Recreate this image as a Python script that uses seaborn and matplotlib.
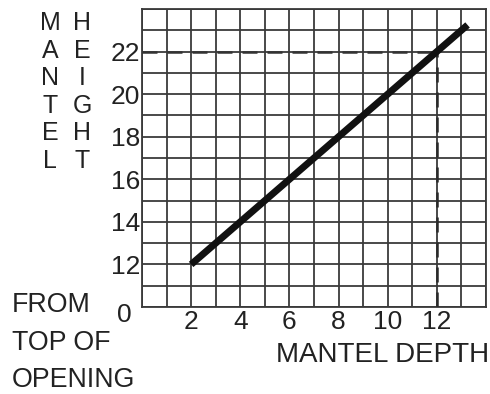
import matplotlib
matplotlib.use("Agg")
import matplotlib.pyplot as plt
import matplotlib.transforms as mtrans
import seaborn as sns
import pandas as pd

# data
depth = [2, 13.25]
height = [12, 23.25]
x_ticks = [2, 4, 6, 8, 10, 12]
y_ticks = [10, 12, 14, 16, 18, 20, 22]
y_tick_labels = ["0", "12", "14", "16", "18", "20", "22"]
ref_depth = 12
ref_height = 22
x_range = [0, 14]
y_range = [10, 24]

sns.set_theme(style="white")
plt.rcParams['font.family'] = ['Liberation Sans', 'DejaVu Sans']

W, H = 490, 394
fig = plt.figure(figsize=(W / 100, H / 100), dpi=100)
ax = fig.add_axes([142 / W, 1 - 307 / H, (486 - 142) / W, (307 - 9) / H])

grid_col = "#3a3a3a"
ax.set_xlim(*x_range)
ax.set_ylim(*y_range)
ax.set_xticks(x_ticks)
ax.set_xticks(range(x_range[0], x_range[1] + 1), minor=True)
ax.set_yticks(y_ticks)
ax.set_yticklabels(y_tick_labels)
ax.set_yticks(range(y_range[0], y_range[1] + 1), minor=True)
ax.grid(True, which="both", color=grid_col, linewidth=1.3)
ax.set_axisbelow(True)
ax.tick_params(which="both", length=0)
ax.tick_params(axis="x", pad=2, labelsize=19, colors="#222222")
ax.tick_params(axis="y", pad=1.5, labelsize=19, colors="#222222")
for s in ax.spines.values():
    s.set_color(grid_col)
    s.set_linewidth(1.3)

# shift the broken-axis "0" label left and down
zero_lbl = ax.get_yticklabels()[0]
zero_lbl.set_transform(zero_lbl.get_transform() +
                       mtrans.ScaledTranslation(-0.08, -0.06, fig.dpi_scale_trans))

# dashed reference lines
ax.plot([x_range[0], ref_depth], [ref_height, ref_height], color="#333333",
        linewidth=1.8, dashes=(6, 4), zorder=3)
ax.plot([ref_depth, ref_depth], [y_range[0], ref_height], color="#2a2a2a",
        linewidth=1.8, dashes=(6, 4), zorder=3)

df = pd.DataFrame({"depth": depth, "height": height})
sns.lineplot(data=df, x="depth", y="height", ax=ax, color="#111111",
             linewidth=5, zorder=4, solid_capstyle="butt")
ax.set_xlabel("")
ax.set_ylabel("")

txt_col = "#222222"
fs = 18
for i, (a, b) in enumerate(zip("MANTEL", "HEIGHT")):
    yb = 30 + i * 27.6
    fig.text(50 / W, 1 - yb / H, a, ha="center", va="baseline", fontsize=fs, color=txt_col)
    fig.text(82 / W, 1 - yb / H, b, ha="center", va="baseline", fontsize=fs, color=txt_col)

for line, yb in zip(["FROM", "TOP OF", "OPENING"], [312, 350, 387]):
    fig.text(12 / W, 1 - yb / H, line, ha="left", va="baseline", fontsize=19.3, color=txt_col)

fig.text(489 / W, 1 - 362 / H, "MANTEL DEPTH", ha="right", va="baseline", fontsize=20, color=txt_col)

fig.savefig("out.png", dpi=100, facecolor="white")
